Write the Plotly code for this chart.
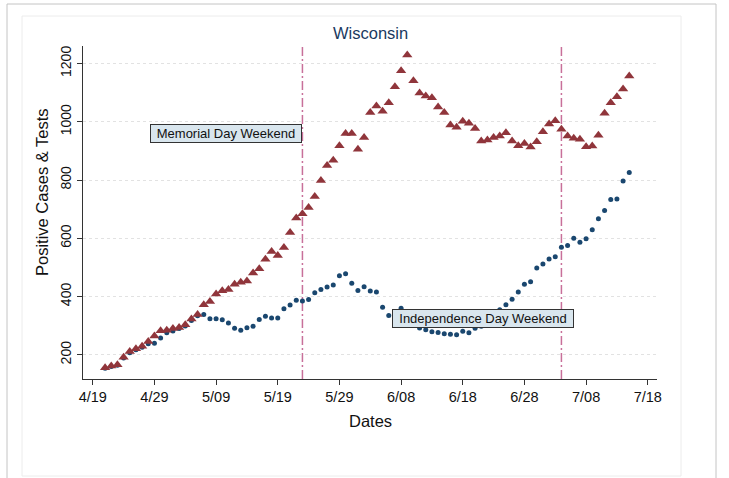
import pandas as pd
import plotly.graph_objects as go

# daily observations, 4/21/2020 - 7/15/2020
dates = pd.date_range('2020-04-21', '2020-07-15', freq='D')

tests = [156, 162, 166, 192, 211, 221, 229, 246, 265, 283,
         284, 290, 294, 303, 323, 338, 372, 383, 409, 420,
         424, 442, 449, 453, 481, 495, 528, 555, 541, 568,
         620, 670, 684, 706, 743, 798, 850, 868, 918, 960,
         960, 906, 946, 1032, 1054, 1036, 1065, 1120, 1175, 1229,
         1141, 1099, 1088, 1082, 1051, 1032, 989, 981, 1002, 995,
         977, 934, 937, 946, 951, 962, 934, 918, 925, 913,
         931, 966, 992, 1003, 974, 951, 943, 940, 914, 917,
         954, 1029, 1065, 1086, 1112, 1157]

cases = [154, 160, 164, 189, 207, 217, 226, 238, 240, 258,
         276, 282, 290, 299, 318, 334, 338, 324, 324, 320,
         309, 291, 284, 293, 298, 321, 332, 326, 326, 358,
         371, 387, 385, 390, 413, 424, 433, 440, 471, 478,
         446, 421, 434, 419, 416, 363, 335, 345, 360, 330,
         305, 292, 286, 279, 277, 272, 271, 269, 281, 276,
         291, 298, 315, 335, 355, 372, 391, 416, 442, 451,
         498, 512, 529, 537, 569, 575, 600, 586, 598, 629,
         667, 695, 733, 735, 797, 826]

tick_dates = ['2020-04-19', '2020-04-29', '2020-05-09', '2020-05-19', '2020-05-29',
              '2020-06-08', '2020-06-18', '2020-06-28', '2020-07-08', '2020-07-18']
tick_text = ['4/19', '4/29', '5/09', '5/19', '5/29', '6/08', '6/18', '6/28', '7/08', '7/18']
y_ticks = [200, 400, 600, 800, 1000, 1200]

holidays = ['2020-05-23', '2020-07-04']

FONT = 'Arial, Liberation Sans, sans-serif'
W, H = 729, 478
L, R, T, B = 83, 72, 46, 99
pw, ph = W - L - R, H - T - B


def px_x(p):
    return (p - L) / pw


def px_y(p):
    return (H - B - p) / ph


fig = go.Figure()

fig.add_trace(go.Scatter(
    x=dates, y=cases, mode='markers',
    marker=dict(symbol='circle', size=5, color='#1a476f'),
    name='Positive Cases'
))
fig.add_trace(go.Scatter(
    x=dates, y=tests, mode='markers',
    marker=dict(symbol='triangle-up', size=9, color='#90353b'),
    name='Tests'
))

shapes = []
for d in holidays:
    shapes.append(dict(type='line', xref='x', yref='paper', x0=d, x1=d, y0=0, y1=1,
                       line=dict(color='#c8709a', width=1.5, dash='9px,3px,2px,3px'),
                       layer='below'))

# frame of the screenshot
shapes.append(dict(type='rect', xref='paper', yref='paper',
                   x0=px_x(7), x1=px_x(716), y0=px_y(490), y1=px_y(4),
                   line=dict(color='#c4c4c4', width=1)))
shapes.append(dict(type='rect', xref='paper', yref='paper',
                   x0=px_x(22), x1=px_x(681), y0=px_y(476), y1=px_y(16),
                   line=dict(color='#ececec', width=1)))


def label(text, x, y, **kw):
    d = dict(text=text, x=px_x(x), y=px_y(y), xref='paper', yref='paper',
             xanchor='center', yanchor='middle', showarrow=False)
    d.update(kw)
    return d


annotations = [
    dict(text='Memorial Day Weekend', x='2020-05-23', y=958, xref='x', yref='y',
         xanchor='right', yanchor='middle', showarrow=False,
         font=dict(family=FONT, size=13, color='#111'),
         bgcolor='#d9e6ee', bordercolor='#333', borderwidth=1, borderpad=1,
         width=148, height=15),
    dict(text='Independence Day Weekend', x='2020-06-21 06:00', y=325, xref='x', yref='y',
         xanchor='center', yanchor='middle', showarrow=False,
         font=dict(family=FONT, size=13, color='#111'),
         bgcolor='#d9e6ee', bordercolor='#333', borderwidth=1, borderpad=1,
         width=178, height=15),
    label('Wisconsin', 370, 33, font=dict(family=FONT, size=16.5, color='#1a3a5f')),
    label('Positive Cases & Tests', 42, 192, textangle=-90,
          font=dict(family=FONT, size=16.5, color='#111')),
    label('Dates', 370, 421, font=dict(family=FONT, size=16.5, color='#111')),
]

fig.update_layout(
    width=W, height=H,
    margin=dict(l=L, r=R, t=T, b=B),
    paper_bgcolor='white', plot_bgcolor='white',
    showlegend=False,
    font=dict(family=FONT, color='#111'),
    shapes=shapes,
    annotations=annotations,
    xaxis=dict(
        type='date', range=['2020-04-17 10:00', '2020-07-19 12:00'],
        tickvals=tick_dates, ticktext=tick_text,
        tickfont=dict(size=14.5), ticks='outside', ticklen=5, tickcolor='#333',
        showline=True, linecolor='#333', linewidth=1,
        showgrid=False, zeroline=False
    ),
    yaxis=dict(
        range=[117, 1260], tickvals=y_ticks, tickangle=-90,
        tickfont=dict(size=14), ticks='outside', ticklen=5, tickcolor='#333',
        showline=True, linecolor='#333', linewidth=1,
        showgrid=True, gridcolor='#e2e2e2', griddash='dot', gridwidth=1,
        zeroline=False
    ),
)

# page body has a default 8px margin; drop it so the figure fills the window
fig.write_html('out.html', config={'displayModeBar': False},
               post_script="document.body.style.margin='0';")
